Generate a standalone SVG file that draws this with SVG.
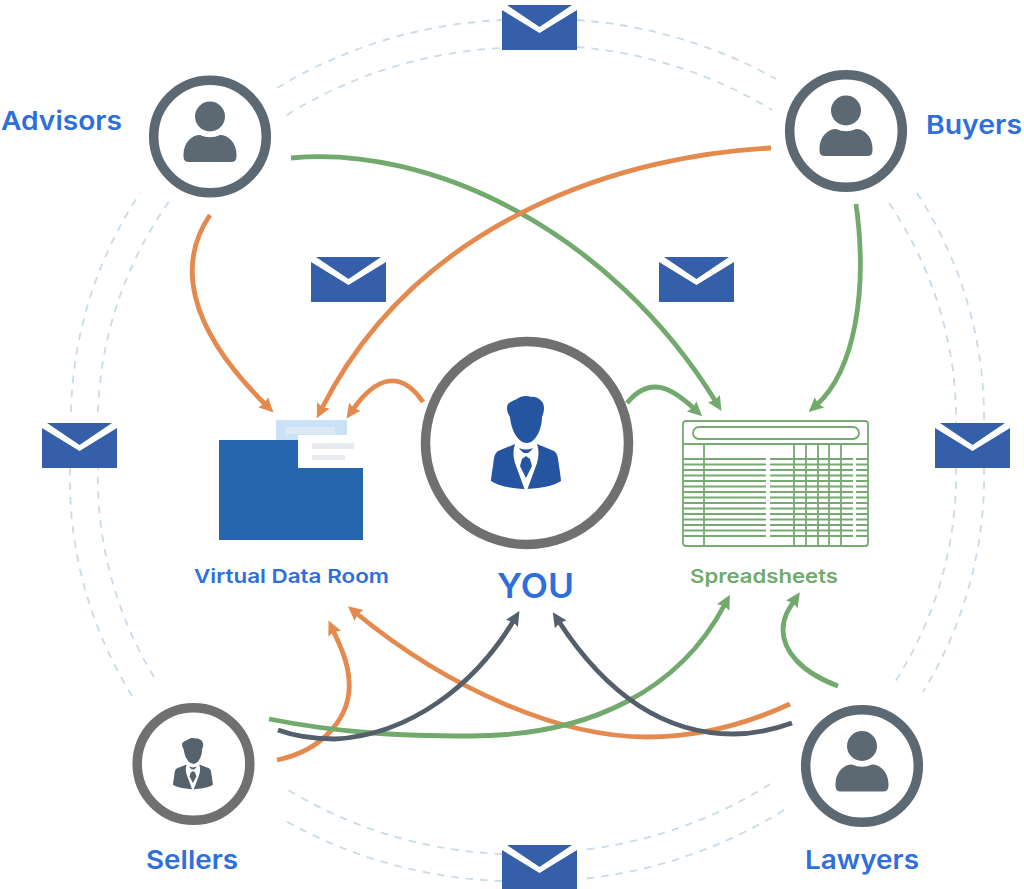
<svg xmlns="http://www.w3.org/2000/svg" xmlns:xlink="http://www.w3.org/1999/xlink" width="1024" height="889" viewBox="0 0 1024 889">
<style>
.lbl{font-family:"Inter","Liberation Sans",sans-serif;font-weight:600;fill:#2f6fdc}
.dash{fill:none;stroke:#c9dbe6;stroke-width:1.8;stroke-dasharray:7.500 7}
.c{fill:none;stroke-width:4.8}
.o{stroke:#e58a4e}.g{stroke:#72a96c}.d{stroke:#535f6b}
.sl{fill:none;stroke:#76aa70;stroke-width:1.8}
</style>
<defs>
<marker id="ao" markerUnits="userSpaceOnUse" markerWidth="15" markerHeight="15" refX="4" refY="7.5" orient="auto" overflow="visible"><path d="M0 0.500L14.500 7.500L0 14.500L2 7.500Z" fill="#e58a4e"/></marker>
<marker id="ag" markerUnits="userSpaceOnUse" markerWidth="15" markerHeight="15" refX="4" refY="7.5" orient="auto" overflow="visible"><path d="M0 0.500L14.500 7.500L0 14.500L2 7.500Z" fill="#72a96c"/></marker>
<marker id="ad" markerUnits="userSpaceOnUse" markerWidth="15" markerHeight="15" refX="4" refY="7.5" orient="auto" overflow="visible"><path d="M0 0.500L14.500 7.500L0 14.500L2 7.500Z" fill="#535f6b"/></marker>
<g id="env"><path d="M5 0H70L37.5 22Z M0 5L37.5 28L75 5V45H0Z" fill="#355fa9"/></g>
<g id="person"><circle cx="0" cy="-20" r="15"/><path d="M-26.5 18C-26.5 6 -18 -1.500 -10 -1.500Q0 3 10 -1.500C18 -1.500 26.500 6 26.500 18V20Q26.500 25.500 21 25.500H-21Q-26.500 25.500 -26.500 20Z"/></g>
<g id="man"><path d="M16 12C16 6 22 5 26 3C29 0 36 -1 40 1C45 0 53 4 53 12C53 16 52 18 51 21C51 34 44 47 36 47C27 47 20 34 19 21C17 18 16 15 16 12Z"/><path d="M24 48L7 55C3 58 3 62 2 70C1 76 0 83 0 85C8 90 18 92 33.500 93L24 67C22 60 22 54 24 48Z"/><path d="M46 48L63 55C67 58 67 62 68 70C69 76 70 83 70 85C62 90 52 92 36.500 93L46 67C48 60 48 54 46 48Z"/><path d="M35 60L39 63L41 70L35 82L29 70L31 63Z"/><path d="M28 52Q35 55 42 52Q38 58 35 57Q32 58 28 52Z"/></g>
</defs>
<rect width="1024" height="889" fill="#fff"/>
<g id="rings">
<path class="dash" d="M277 88A457 431 0 0 1 502 20M577 20A457 431 0 0 1 776 79M917 193A457 431 0 0 1 984 423M984 467A457 431 0 0 1 923 692M784 810A457 431 0 0 1 582 879M502 881A457 431 0 0 1 282 819M132 696A457 431 0 0 1 70 468M71 412A457 431 0 0 1 140 193"/>
<path class="dash" d="M287 115A429 403 0 0 1 502 48M577 47A429 403 0 0 1 772 110M889 203A429 403 0 0 1 956 423M956 467A429 403 0 0 1 893 685M770 784A429 403 0 0 1 582 850M502 854A429 403 0 0 1 285 788M154 677A429 403 0 0 1 98 468M98 412A429 403 0 0 1 170 200"/>
</g>
<g id="connectors">
<path class="c o" marker-end="url(#ao)" d="M210 215C178 262 185 325 266 405"/>
<path class="c g" marker-end="url(#ag)" d="M291 158C430 145 610 230 716 402"/>
<path class="c o" marker-end="url(#ao)" d="M771 148C630 155 420 215 321.500 409"/>
<path class="c o" marker-end="url(#ao)" d="M423 402C400 368 375 378 352.500 410"/>
<path class="c g" marker-end="url(#ag)" d="M856 204C868 290 855 370 816.500 405"/>
<path class="c g" marker-end="url(#ag)" d="M627 403C650 375 672 388 694.500 409"/>
<path class="c g" marker-end="url(#ag)" d="M838 686C800 672 783 650 783 630C783 618 788 610 794 601"/>
<path class="c o" marker-end="url(#ao)" d="M277 760C325 750 352 715 349 680C348 662 340 645 333 630"/>
<path class="c o" marker-end="url(#ao)" d="M790 704C740 727 690 737 647 737C560 737 450 690 356 613"/>
<path class="c g" marker-end="url(#ag)" d="M269 719C340 733 400 736 470 736C590 736 680 690 725 604"/>
<path class="c d" marker-end="url(#ad)" d="M278 730C300 738 320 739 335 739C410 735 475 685 514 620"/>
<path class="c d" marker-end="url(#ad)" d="M792 723C770 731 750 734 733 734C670 734 610 700 558.500 621"/>
</g>
<g id="envelopes">
<use href="#env" x="502" y="5"/><use href="#env" x="42" y="423"/><use href="#env" x="311" y="257"/><use href="#env" x="659" y="257"/><use href="#env" x="935" y="423"/><use href="#env" x="502" y="845"/>
</g>
<g id="advisors"><circle cx="210" cy="136.500" r="56.300" fill="#fff" stroke="#5c6972" stroke-width="9.500"/><use href="#person" x="210" y="136.500" fill="#5c6972"/><text class="lbl" x="1" y="130" font-size="26" textLength="121" lengthAdjust="spacingAndGlyphs">Advisors</text></g>
<g id="buyers"><circle cx="846" cy="131" r="56.300" fill="#fff" stroke="#5c6972" stroke-width="9.500"/><use href="#person" x="846" y="130.500" fill="#5c6972"/><text class="lbl" x="926" y="134" font-size="26" textLength="96" lengthAdjust="spacingAndGlyphs">Buyers</text></g>
<g id="lawyers"><circle cx="862" cy="766" r="56.300" fill="#fff" stroke="#5c6972" stroke-width="9.500"/><use href="#person" x="862" y="766" fill="#5c6972"/><text class="lbl" x="805" y="869" font-size="26" textLength="114" lengthAdjust="spacingAndGlyphs">Lawyers</text></g>
<g id="sellers"><circle cx="193.500" cy="764" r="56.300" fill="#fff" stroke="#707070" stroke-width="9.500"/><use href="#man" transform="translate(173 738) scale(.57 .55)" fill="#55626c"/><text class="lbl" x="146" y="869" font-size="26" textLength="92" lengthAdjust="spacingAndGlyphs">Sellers</text></g>
<g id="you"><circle cx="527" cy="443" r="101.500" fill="#fff" stroke="#707070" stroke-width="9.500"/><use href="#man" x="491" y="396" fill="#2554a0"/><text class="lbl" x="497" y="598" font-size="34" textLength="77" lengthAdjust="spacingAndGlyphs">YOU</text></g>
<g id="data-room">
<path d="M276 420H347V435H298V440H276Z" fill="#cbe1f5"/><rect x="286" y="427" width="49" height="7" fill="#dde8f3"/>
<rect x="312" y="443" width="42" height="6" fill="#e8ecf0"/><rect x="312" y="455" width="33" height="5" fill="#e8ecf0"/>
<path d="M219 440H298V468H363V540H219Z" fill="#2566ae"/>
<text class="lbl" x="194" y="583" font-size="19" textLength="195" lengthAdjust="spacingAndGlyphs">Virtual Data Room</text>
</g>
<g id="spreadsheets">
<rect class="sl" x="683" y="421" width="185" height="125" rx="3"/><rect class="sl" x="693" y="427" width="166" height="12" rx="6"/>
<path class="sl" d="M683 444H868M704 444V546M794 444V546M806 444V546M818 444V546M829 444V546M841 444V546"/>
<path class="sl" d="M683 459H766M770 459H853M856 459H868M683 464.500H766M770 464.500H853M856 464.500H868M683 470H766M770 470H853M856 470H868M683 475.500H766M770 475.500H853M856 475.500H868M683 481H766M770 481H853M856 481H868M683 486.500H766M770 486.500H853M856 486.500H868M683 492H766M770 492H853M856 492H868M683 497.500H766M770 497.500H853M856 497.500H868M683 503H766M770 503H853M856 503H868M683 508.500H766M770 508.500H853M856 508.500H868M683 514H766M770 514H853M856 514H868M683 519.500H766M770 519.500H853M856 519.500H868M683 525H766M770 525H853M856 525H868M683 530.500H766M770 530.500H853M856 530.500H868M683 536H766M770 536H853M856 536H868"/>
<text class="lbl" x="690" y="583" font-size="19" textLength="148" lengthAdjust="spacingAndGlyphs" style="fill:#72a96c">Spreadsheets</text>
</g>
</svg>
